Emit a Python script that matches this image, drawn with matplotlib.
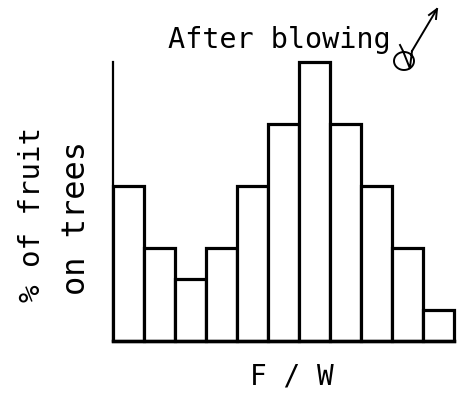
import numpy as np
import matplotlib.pyplot as plt
from matplotlib.lines import Line2D

# relative amount of fruit left on trees per F/W class
classes = np.arange(11)
fruit = [5, 3, 2, 3, 5, 7, 9, 7, 5, 3, 1]

W, H = 465, 402
fig = plt.figure(figsize=(W / 100, H / 100), dpi=100)
ax = fig.add_axes([113 / W, 1 - 342 / H, (454 - 113) / W, (342 - 63) / H])

ax.bar(classes, fruit, width=1.0, align='edge', facecolor='white',
       edgecolor='black', linewidth=2.3)
ax.set_xlim(0, len(fruit))
ax.set_ylim(0, max(fruit))

for s in ['top', 'right']:
    ax.spines[s].set_visible(False)
ax.spines['left'].set_linewidth(1.6)
ax.spines['bottom'].set_linewidth(2.5)
ax.set_xticks([])
ax.set_yticks([])
for p in ax.patches:
    p.set_clip_on(False)

font = 'DejaVu Sans Mono'
fig.text(168 / W, 1 - 40 / H, 'After blowing', fontsize=20.5, family=font,
         ha='left', va='center')
fig.text(292 / W, 1 - 377 / H, 'F / W', fontsize=20, family=font,
         ha='center', va='center')
fig.text(32 / W, 1 - 214 / H, '% of fruit', fontsize=21, family=font,
         rotation=90, ha='center', va='center')
fig.text(76 / W, 1 - 218 / H, 'on trees', fontsize=23, family=font,
         rotation=90, ha='center', va='center')

# little curl on the end of the "g" with an arrow
t = np.linspace(0.3 * np.pi, 2.3 * np.pi, 60)
lx = 404 + 10 * np.cos(t)
ly = 62 + 9 * np.sin(t)
lx = np.concatenate([[400, 403], lx, [412]])
ly = np.concatenate([[46, 52], ly, [52]])
fig.add_artist(Line2D(lx / W, 1 - ly / H, color='black', lw=1.4,
                      transform=fig.transFigure))
fig.add_artist(Line2D(np.array([412, 437]) / W, 1 - np.array([52, 10]) / H,
                      color='black', lw=1.4, transform=fig.transFigure))
fig.add_artist(Line2D(np.array([429, 437, 436]) / W,
                      1 - np.array([16, 10, 20]) / H,
                      color='black', lw=1.4, transform=fig.transFigure))

plt.savefig('out.png', dpi=100)
